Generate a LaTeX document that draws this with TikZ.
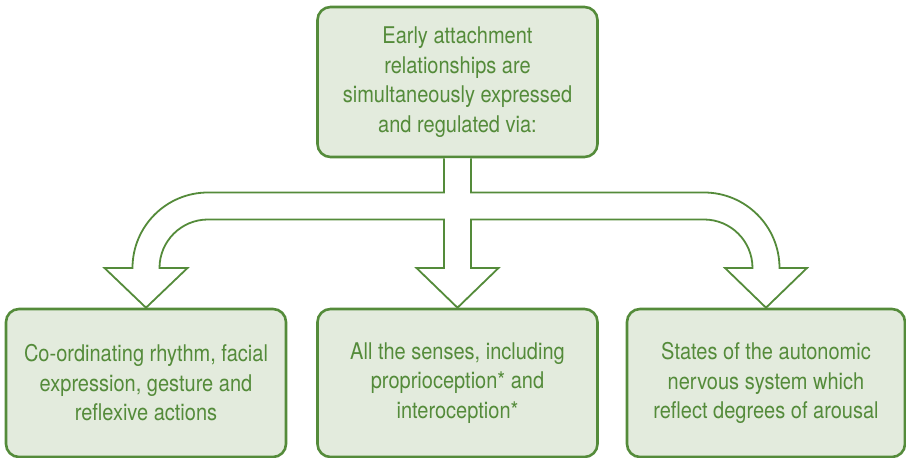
\documentclass[tikz,border=0pt]{standalone}
\usepackage{fontspec}
\setmainfont{TeX Gyre Heros}[FakeStretch=0.87]
\usepackage{tikz}
\usepackage{xcolor}

\definecolor{leaf}{RGB}{84,139,58}
\definecolor{leafbg}{RGB}{227,235,221}

\tikzset{
  box/.style={draw=leaf, line width=2.6pt, fill=leafbg, rounded corners=13pt,
    text=leaf, align=center, minimum width=280pt, minimum height=148pt,
    font=\fontsize{23}{29.5}\selectfont},
  blockarrow/.style={draw=leaf, line width=1.8pt, fill=white, line join=miter}
}

\begin{document}
\begin{tikzpicture}[x=1pt, y=1pt]
\useasboundingbox (0,0) rectangle (906,458);

\node[box, minimum height=150pt] (top) at (457.5,376) {Early attachment\\relationships are\\simultaneously expressed\\and regulated via:};
\node[box] (left) at (146,75) {Co-ordinating rhythm, facial\\expression, gesture and\\reflexive actions};
\node[box] (mid) at (457.5,75) {All the senses, including\\proprioception* and\\interoception*};
\node[box, minimum width=278pt] (right) at (766,75) {States of the autonomic\\nervous system which\\reflect degrees of arousal};

\draw[blockarrow] ([xshift=-13.5pt]top.south) -- (444,265.5) -- (208,265.5)
  arc[start angle=90, end angle=180, radius=75.5] -- (104.5,190) -- (left.north)
  -- (187.5,190) -- (159.5,190) arc[start angle=180, end angle=90, radius=48.5]
  -- (444,238.5) -- (444,190) -- (416.5,190) -- (mid.north) -- (498.5,190)
  -- (471,190) -- (471,238.5) -- (704,238.5)
  arc[start angle=90, end angle=0, radius=48.5] -- (725,190) -- (right.north)
  -- (807,190) -- (779.5,190) arc[start angle=0, end angle=90, radius=75.5]
  -- (471,265.5) -- ([xshift=13.5pt]top.south);
\end{tikzpicture}
\end{document}
